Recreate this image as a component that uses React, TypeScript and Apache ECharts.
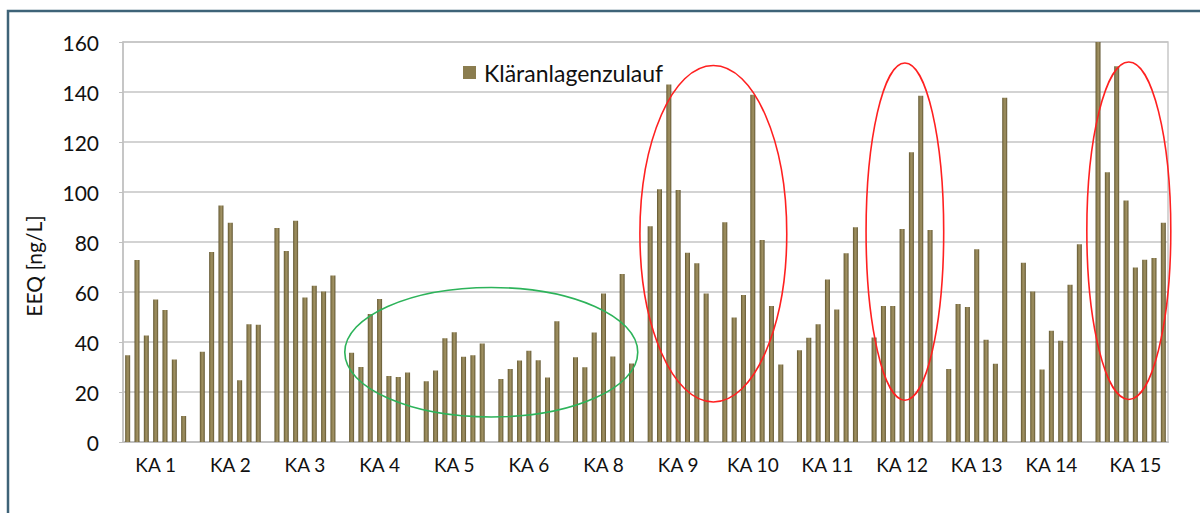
import React, { useEffect, useRef } from "react";
import * as echarts from "echarts";

const groupNames = ["KA 1", "KA 2", "KA 3", "KA 4", "KA 5", "KA 6", "KA 8", "KA 9", "KA 10", "KA 11", "KA 12", "KA 13", "KA 14", "KA 15"];
const ka1 = [34.7, 72.8, 42.6, 57.0, 52.8, 33.0, 10.4];
const ka2 = [36.1, 76.0, 94.6, 87.7, 24.7, 47.1, 46.9];
const ka3 = [85.6, 76.4, 88.5, 57.8, 62.5, 60.2, 66.6];
const ka4 = [35.7, 30.0, 51.2, 57.2, 26.4, 26.0, 27.8];
const ka5 = [24.3, 28.6, 41.5, 43.9, 34.1, 34.7, 39.4];
const ka6 = [25.2, 29.2, 32.6, 36.5, 32.7, 25.8, 48.3];
const ka8 = [33.9, 29.9, 43.8, 59.4, 34.2, 67.2, 31.4];
const ka9 = [86.3, 101.1, 143.0, 100.8, 75.7, 71.5, 59.4];
const ka10 = [87.9, 49.8, 58.8, 138.9, 80.8, 54.4, 31.0];
const ka11 = [36.7, 41.7, 47.1, 65.0, 53.0, 75.5, 85.9];
const ka12 = [41.8, 54.4, 54.4, 85.2, 115.9, 138.5, 84.8];
const ka13 = [29.2, 55.2, 54.0, 77.1, 40.9, 31.3, 137.7];
const ka14 = [71.7, 60.2, 29.0, 44.5, 40.5, 62.9, 79.1];
const ka15 = [160, 107.9, 150.3, 96.6, 69.8, 72.9, 73.6, 87.7];
const groupValues = [ka1, ka2, ka3, ka4, ka5, ka6, ka8, ka9, ka10, ka11, ka12, ka13, ka14, ka15];

const seriesName = "Kläranlagenzulauf";
const yAxisTitle = "EEQ [ng/L]";
const yMin = 0;
const yMax = 160;
const yInterval = 20;

// Annotation ellipses in data terms: centre/radius along category index, centre/radius in value
const annotations = [
  { color: "#2db35a", cx: 38.97, rx: 15.7, cy: 35.9, ry: 25.9 },
  { color: "#ff2020", cx: 62.77, rx: 7.87, cy: 83.3, ry: 67.3 },
  { color: "#ff2020", cx: 83.3, rx: 4.16, cy: 84.15, ry: 67.45 },
  { color: "#ff2020", cx: 107.3, rx: 4.5, cy: 84.5, ry: 67.5 },
];

const categories: string[] = [];
const values: (number | null)[] = [];
const labelAt: Record<number, string> = {};
groupNames.forEach((g, gi) => {
  const vals = groupValues[gi];
  const start = categories.length;
  vals.forEach((v, j) => {
    categories.push(`${g}-${j + 1}`);
    values.push(v);
  });
  labelAt[start + Math.floor(vals.length / 2)] = g;
  if (gi < groupNames.length - 1) {
    categories.push(`${g}-gap`);
    values.push(null);
  }
});

const FONT = "Lato, 'Noto Sans', sans-serif";

export default function App() {
  const ref = useRef<HTMLDivElement>(null);
  useEffect(() => {
    if (!ref.current) return;
    const chart = echarts.init(ref.current, undefined, { renderer: "svg" });
    const barColor = new echarts.graphic.LinearGradient(0, 0, 1, 0, [
      { offset: 0, color: "#5e532f" },
      { offset: 0.3, color: "#8f8152" },
      { offset: 0.6, color: "#a09163" },
      { offset: 1, color: "#5e532f" },
    ]);
    chart.setOption({
      animation: false,
      backgroundColor: "#ffffff",
      textStyle: { fontFamily: FONT },
      grid: { left: 123, right: 32, top: 42, bottom: 71, show: true, borderColor: "#c8c8c8", borderWidth: 1.5, backgroundColor: "transparent" },
      legend: {
        left: 458,
        top: 56,
        itemWidth: 13,
        itemHeight: 13,
        data: [{ name: seriesName, icon: "rect", itemStyle: { color: "#8b7d4f" } }],
        textStyle: { fontSize: 23, color: "#111", fontFamily: FONT, padding: [0, 0, 0, 3] },
      },
      xAxis: {
        type: "category",
        data: categories,
        axisLine: { show: true, lineStyle: { color: "#c0c0c0", width: 2 } },
        axisTick: { show: false },
        splitLine: { show: false },
        axisLabel: {
          interval: (index: number) => labelAt[index] !== undefined,
          formatter: (_v: string, index: number) => labelAt[index] || "",
          fontSize: 19,
          color: "#111",
          margin: 13,
          fontFamily: FONT,
        },
      },
      yAxis: {
        type: "value",
        min: yMin,
        max: yMax,
        interval: yInterval,
        axisLine: { show: true, lineStyle: { color: "#c0c0c0", width: 1.5 } },
        axisTick: { show: true, length: 4, lineStyle: { color: "#c0c0c0" } },
        splitLine: { show: true, lineStyle: { color: "#c4c4c4", width: 1.5 } },
        axisLabel: { fontSize: 21, color: "#111", margin: 24, fontFamily: FONT },
      },
      series: [
        {
          name: seriesName,
          type: "bar",
          data: values,
          barWidth: 5,
          itemStyle: { color: barColor },
        },
      ],
    });

    const p0 = chart.convertToPixel({ gridIndex: 0 }, [0, yMin]) as number[];
    const p1 = chart.convertToPixel({ gridIndex: 0 }, [1, yMax]) as number[];
    const step = p1[0] - p0[0];
    const perUnit = (p0[1] - p1[1]) / (yMax - yMin);
    const ellipses = annotations.map((a) => ({
      type: "ellipse",
      silent: true,
      z: 100,
      shape: {
        cx: p0[0] + a.cx * step,
        cy: p0[1] - (a.cy - yMin) * perUnit,
        rx: a.rx * step,
        ry: a.ry * perUnit,
      },
      style: { fill: "none", stroke: a.color, lineWidth: 1.6 },
    }));
    chart.setOption({
      graphic: [
        {
          type: "rect",
          silent: true,
          shape: { x: 8, y: 11, width: 1300, height: 700 },
          style: { fill: "none", stroke: "#3e6378", lineWidth: 2.5 },
        },
        {
          type: "text",
          silent: true,
          x: 33,
          y: 266,
          rotation: Math.PI / 2,
          style: {
            text: yAxisTitle,
            fontSize: 21,
            fontFamily: FONT,
            fill: "#111",
            align: "center",
            verticalAlign: "middle",
          },
        },
        ...ellipses,
      ],
    });
    return () => chart.dispose();
  }, []);
  return (
    <div style={{ position: "fixed", left: 0, top: 0, width: 1200, height: 513, background: "#fff" }}>
      <div ref={ref} style={{ width: 1200, height: 513 }} />
    </div>
  );
}
